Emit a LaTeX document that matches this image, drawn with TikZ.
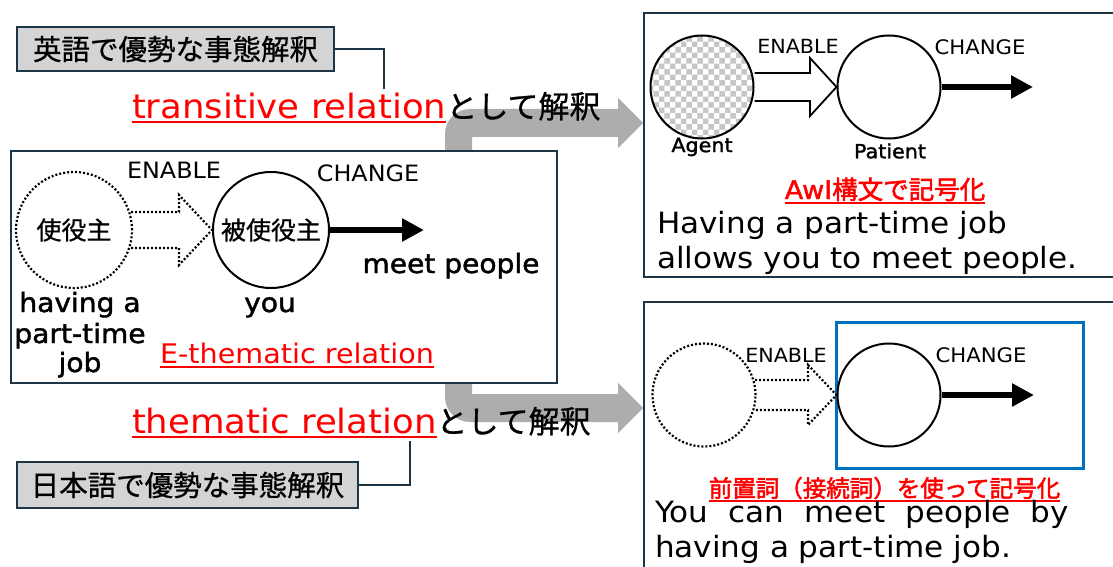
\documentclass[tikz,border=0pt]{standalone}
\usepackage{fontspec}
\setmainfont{DejaVu Sans}[FakeStretch=1.06]
\newfontfamily\semib{DejaVu Sans}[FakeStretch=1.06, FakeBold=1.6]
\newfontfamily\jp{Noto Sans CJK JP}[FakeBold=0.8]
\newfontfamily\jpb{Noto Sans CJK JP}[FakeBold=2.2]
\usetikzlibrary{arrows.meta,patterns}
\definecolor{navy}{HTML}{1E3546}
\definecolor{lgray}{HTML}{D4D4D4}
\definecolor{agray}{HTML}{ADADAD}
\definecolor{myred}{HTML}{FF0000}
\definecolor{myblue}{HTML}{0070C0}
\newcommand\setfs[1]{\fontsize{#1pt}{#1pt}\selectfont}
\tikzset{
 frame/.style={draw=navy, line width=1.5pt},
 tag/.style={draw=navy, line width=1.5pt, fill=lgray, inner sep=0pt},
 dotc/.style={circle, draw, line width=2.2pt, dash pattern=on 2pt off 2pt, inner sep=0pt},
 solc/.style={circle, draw, line width=2pt, inner sep=0pt},
 dotl/.style={line width=2.2pt, dash pattern=on 2pt off 2pt, line join=miter},
 soll/.style={line width=1.8pt, line join=miter},
 bigarrow/.style={line width=6.5pt, -{Triangle[length=22pt,width=22pt]}},
 redul/.style={draw=myred, line width=1.5pt},
 conn/.style={draw=navy, line width=1.5pt},
 txt/.style={inner sep=0pt, outer sep=0pt},
}
\begin{document}
\begin{tikzpicture}[x=1pt,y=-1pt]
\useasboundingbox (0,0) rectangle (1113,567);
\fill[white] (0,0) rectangle (1113,567);

% grey bent arrows
\fill[agray] (445,152) -- (445,134) arc[start angle=180, end angle=270, radius=25] -- (618,109) -- (618,98) -- (643,123) -- (618,148) -- (618,137) -- (472,137) -- (472,152) -- cycle;
\fill[agray] (445,380) -- (445,397) arc[start angle=180, end angle=90, radius=25] -- (618,422) -- (618,433) -- (643,408) -- (618,383) -- (618,394) -- (472,394) -- (472,380) -- cycle;

% ===== left box =====
\node[frame, fill=white, anchor=north west, minimum width=546pt, minimum height=232pt, inner sep=0pt] (lbox) at (10,150) {};
\node[dotc, minimum size=116pt] (c1) at (74,230) {\jp\setfs{25}使役主};
\node[solc, minimum size=116pt] (c2) at (271,230) {\jp\setfs{25}被使役主};
\draw[dotl] (131,212) -- (179,212) -- (179,195) -- (c2.west) -- (179,265) -- (179,248) -- (131,248);
\node[txt] (en1) at (174,170) {\setfs{22.5}ENABLE};
\node[txt] (ch1) at (368,173) {\setfs{22.5}CHANGE};
\coordinate (t1) at (424,230);
\draw[bigarrow] (c2.east) -- (t1);
\node[txt, anchor=base] (mp) at (451,273) {\semib\setfs{26.5}meet people};
\node[txt, anchor=base] (hv1) at (80,312) {\semib\setfs{26.5}having a};
\node[txt, anchor=base] (hv2) at (80,343) {\semib\setfs{26.5}part-time};
\node[txt, anchor=base] (hv3) at (80,372) {\semib\setfs{26.5}job};
\node[txt, anchor=base] (you) at (270,312) {\semib\setfs{26.5}you};
\node[txt, anchor=base, text=myred] (eth) at (297,363) {\setfs{27}E-thematic relation};
\draw[redul] ([yshift=-4pt]eth.base west) -- ([yshift=-4pt]eth.base east);

% ===== top labels =====
\node[tag, minimum width=317pt, minimum height=44pt] (lab1) at (175.5,49) {\jp\setfs{28.5}英語で優勢な事態解釈};
\node[txt, anchor=base west, text=myred] (tr) at (132,118) {\setfs{33.5}transitive relation};
\node[txt, anchor=base west] (tj) at (tr.base east) {\jp\setfs{31}として解釈};
\draw[redul] ([yshift=-4pt]tr.base west) -- ([yshift=-4pt]tr.base east);
\coordinate (k1) at (384,89);
\draw[conn] (lab1.east) -| (k1);

% ===== bottom labels =====
\node[tag, minimum width=341pt, minimum height=46pt] (lab2) at (187.5,485) {\jp\setfs{28.5}日本語で優勢な事態解釈};
\node[txt, anchor=base west, text=myred] (th) at (132,433) {\setfs{33.5}thematic relation};
\node[txt, anchor=base west] (thj) at (th.base east) {\jp\setfs{31}として解釈};
\draw[redul] ([yshift=-4pt]th.base west) -- ([yshift=-4pt]th.base east);
\coordinate (k2) at (410,441);
\draw[conn] (k2) |- (lab2.east);

% ===== top right box =====
\draw[frame] (1114,13) -- (644,13) -- (644,277) -- (1114,277);
\node[solc, minimum size=103pt, pattern=checkerboard, pattern color=gray!45] (c3) at (702,87) {};
\node[solc, minimum size=103pt] (c4) at (889,87) {};
\draw[soll] (c3.east |- 0,73) -- (810,73) -- (810,58) -- (c4.west) -- (810,116) -- (810,101) -- (c3.east |- 0,101);
\node[txt] (en2) at (798,46) {\setfs{19.5}ENABLE};
\node[txt] (ch2) at (980,47) {\setfs{20}CHANGE};
\coordinate (t2) at (1033,87);
\draw[bigarrow] (c4.east) -- (t2);
\node[txt] (ag) at (702,147) {\semib\setfs{19.5}Agent};
\node[txt] (pt) at (890,151) {\semib\setfs{19.5}Patient};
\node[txt, anchor=base, text=myred] (awi) at (885,199) {\semib\setfs{25.5}AwI{\jpb 構文で記号化}};
\draw[redul] ([yshift=-4pt]awi.base west) -- ([yshift=-4pt]awi.base east);
\node[txt, anchor=base west] (s1) at (657,233) {\setfs{29.3}Having a part-time job};
\node[txt, anchor=base west] (s2) at (657,268) {\setfs{29.3}allows you to meet people.};

% ===== bottom right box =====
\draw[frame] (1114,302) -- (644,302) -- (644,568);
\node[draw=myblue, line width=3pt, minimum width=247pt, minimum height=146pt, inner sep=0pt] (blue) at (959.5,395) {};
\node[dotc, minimum size=103pt] (c5) at (704,395) {};
\node[solc, minimum size=103pt] (c6) at (889,395) {};
\draw[dotl] (755,380) -- (808,380) -- (808,365) -- (c6.west) -- (808,425) -- (808,410) -- (755,410);
\node[txt] (en3) at (786,355) {\setfs{19.5}ENABLE};
\node[txt] (ch3) at (981,355) {\setfs{20}CHANGE};
\coordinate (t3) at (1034,395);
\draw[bigarrow] (c6.east) -- (t3);
\node[txt, anchor=base, text=myred] (prep) at (884.5,497) {\jpb\setfs{23.5}前置詞（接続詞）を使って記号化};
\draw[redul] ([yshift=-4pt]prep.base west) -- ([yshift=-4pt]prep.base east);
\node[txt, anchor=base west] (s3) at (655,522) {\setfs{29.3}\makebox[414pt][s]{You can meet people by}};
\node[txt, anchor=base west] (s4) at (655,557) {\setfs{29.3}having a part-time job.};
\end{tikzpicture}
\end{document}
